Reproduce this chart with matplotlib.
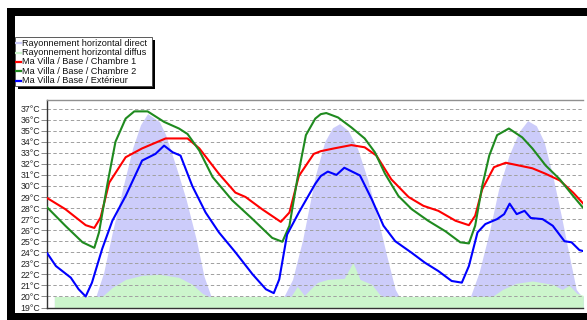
import matplotlib
matplotlib.use("Agg")
import matplotlib.pyplot as plt
from matplotlib.patches import Rectangle
from matplotlib.lines import Line2D
from matplotlib.ticker import MultipleLocator

plt.rcParams['font.family'] = ['Liberation Sans', 'DejaVu Sans']

# ---- data: hours since start of the period ----
ch1_h = [0, 2.3, 4.9, 6.0, 6.8, 7.9, 10, 12.1, 15.1, 17.9, 19.4, 21.9, 24, 25.3, 27.4,
         29.8, 30.9, 32.1, 34.0, 34.9, 36.6, 38.8, 40.5, 42, 43.9, 46.1, 48, 49.9, 52.1,
         53.8, 54.6, 55.5, 57, 58.5, 60.2, 61.9, 63.6, 65.4, 67.1, 68.4]
ch1_t = [28.9, 27.9, 26.45, 26.2, 27.15, 30.3, 32.6, 33.4, 34.3, 34.3, 33.4, 31.1, 29.4,
         29.0, 27.9, 26.75, 27.6, 30.9, 32.9, 33.15, 33.4, 33.7, 33.5, 32.75, 30.6, 29.0,
         28.2, 27.75, 26.85, 26.45, 27.3, 29.7, 31.7, 32.1, 31.85, 31.6, 31.1, 30.5, 29.4, 28.4]

ch2_h = [0, 2.3, 4.5, 6.0, 6.6, 7.7, 8.7, 10, 11.1, 12.8, 14.9, 16.8, 17.9, 19.4, 21.1,
         23.6, 26.2, 28.7, 30.0, 30.9, 31.9, 33.0, 34.2, 34.9, 35.6, 37.1, 38.8, 40.5,
         41.8, 43.1, 44.8, 46.5, 48.6, 50.8, 52.7, 53.8, 54.6, 55.5, 56.4, 57.4, 58.9,
         60.6, 61.9, 63.6, 65.4, 67.1, 68.4]
ch2_t = [28.05, 26.4, 24.9, 24.4, 25.8, 30.3, 34.0, 36.1, 36.75, 36.75, 35.8, 35.2, 34.7,
         33.2, 30.8, 28.7, 27.0, 25.3, 24.95, 26.4, 30.6, 34.6, 36.1, 36.5, 36.6, 36.2,
         35.3, 34.3, 33.05, 31.1, 29.1, 27.9, 26.85, 25.9, 24.9, 24.8, 26.4, 30.0, 32.75,
         34.6, 35.2, 34.4, 33.4, 31.85, 30.6, 29.1, 28.0]

ext_h = [0, 1.1, 3.0, 4.0, 4.9, 5.7, 7.0, 8.3, 10, 12.1, 13.8, 14.9, 16, 17, 18.5, 20.2,
         21.9, 24, 26.2, 27.9, 28.9, 29.6, 30.6, 32.1, 34.2, 34.9, 35.8, 36.9, 37.9, 39.9,
         41.4, 42.9, 44.4, 46.5, 48.2, 49.9, 51.6, 52.9, 53.8, 54.9, 55.9, 57.4, 58.3,
         59.0, 59.9, 60.9, 61.7, 63.2, 64.5, 66, 66.9, 67.9, 68.4]
ext_t = [23.9, 22.75, 21.7, 20.65, 20.0, 21.25, 24.3, 26.85, 29.1, 32.3, 32.9, 33.65,
         33.05, 32.75, 30.0, 27.6, 25.8, 24.0, 22.0, 20.65, 20.3, 21.55, 25.6, 27.6, 30.2,
         30.9, 31.3, 31.0, 31.65, 30.95, 28.8, 26.4, 25.0, 23.95, 23.05, 22.3, 21.4,
         21.25, 22.75, 25.8, 26.55, 27.0, 27.45, 28.4, 27.45, 27.75, 27.1, 27.0, 26.4,
         25.0, 24.9, 24.2, 24.1]

# solar radiation, W/m2
dir_h = [0.9, 6.2, 7.2, 8.3, 9.6, 10.9, 11.9, 12.8, 14.3, 15.1, 16.4, 17.7, 19.0, 20.0,
         20.9, 30.2, 31.3, 32.6, 34.2, 35.4, 36.4, 37.3, 38.4, 39.6, 40.9, 42.2, 43.3,
         44.4, 44.9, 54.0, 55.1, 56.4, 57.6, 58.9, 60.2, 61.3, 62.4, 63.4, 64.5, 65.6,
         66.6, 67.5, 67.9, 68.3, 68.4]
dir_w = [0, 0, 120, 320, 535, 740, 855, 910, 870, 805, 650, 485, 285, 100, 0, 0, 85, 285,
         600, 770, 840, 860, 825, 735, 580, 385, 205, 35, 0, 0, 120, 320, 535, 700, 820,
         875, 850, 770, 600, 400, 205, 35, 15, 0, 0]

dif_h = [0.9, 7.0, 8.3, 10.0, 12.1, 14.3, 16.8, 18.5, 19.8, 20.6, 31.1, 31.9, 32.8, 33.8,
         34.5, 35.8, 37.9, 39.0, 39.9, 41.4, 42.4, 42.9, 56.8, 58.1, 59.8, 61.9, 64.5,
         65.7, 66.6, 67.6, 68.4]
dif_w = [0, 0, 45, 85, 105, 110, 95, 60, 15, 0, 0, 50, 5, 45, 70, 85, 90, 170, 85, 60, 10,
         0, 0, 35, 65, 77, 60, 35, 55, 15, 5]

temp_ticks = list(range(19, 38))
temp_labels = [f"{t}°C" for t in temp_ticks]

series_names = ["Rayonnement horizontal direct", "Rayonnement horizontal diffus",
                "Ma Villa / Base / Chambre 1", "Ma Villa / Base / Chambre 2",
                "Ma Villa / Base / Extérieur"]
series_colors = ["#ccccfa", "#ccf5cc", "#ff0000", "#1f8a1f", "#0000ff"]

# ---- figure ----
W, H = 587, 320
fig = plt.figure(figsize=(W / 100, H / 100), dpi=100)
fig.patch.set_facecolor("white")

x0, x1, ytop, ybot = 47.3, 583.3, 100, 307.5
rect = [x0 / W, 1 - ybot / H, (x1 - x0) / W, (ybot - ytop) / H]

T_MIN, T_MAX = 19, 37.78
W_PER_DEG = 55.0
rad_min = (T_MIN - 20) * W_PER_DEG
rad_max = (T_MAX - 20) * W_PER_DEG

# radiation axis (background), temperature axis on top
axr = fig.add_axes(rect)
axr.set_xlim(0, 68.4)
axr.set_ylim(rad_min, rad_max)
axr.fill_between(dir_h, rad_min, dir_w, color=series_colors[0], lw=0)
axr.fill_between(dif_h, rad_min, dif_w, color=series_colors[1], lw=0)
axr.set_yticks([])
axr.tick_params(axis="x", which="both", labelbottom=False, bottom=False)
for s in axr.spines.values():
    s.set_visible(False)

ax = axr.twinx()
ax.set_ylim(T_MIN, T_MAX)
ax.yaxis.tick_left()
ax.yaxis.set_label_position("left")
ax.set_yticks(temp_ticks)
ax.set_yticklabels(temp_labels, fontsize=6.3, color="#222222")
ax.tick_params(axis="y", length=4, width=0.6, pad=1, color="#777777")
ax.xaxis.set_major_locator(MultipleLocator(6))
ax.xaxis.set_minor_locator(MultipleLocator(2))
ax.tick_params(axis="x", which="both", length=3, width=0.6, color="#888888",
               labelbottom=False)
ax.grid(True, which="major", color="#a0a0a0", lw=0.7, ls=(0, (3.5, 2.5)))

ax.plot(ch1_h, ch1_t, color=series_colors[2], lw=1.5, zorder=3)
ax.plot(ch2_h, ch2_t, color=series_colors[3], lw=1.5, zorder=3)
ax.plot(ext_h, ext_t, color=series_colors[4], lw=1.5, zorder=3)

ax.spines["right"].set_visible(False)
ax.spines["top"].set_color("#909090")
ax.spines["top"].set_linewidth(1.0)
ax.spines["left"].set_color("#333333")
ax.spines["left"].set_linewidth(1.0)
ax.spines["bottom"].set_color("#333333")
ax.spines["bottom"].set_linewidth(1.0)


def px_rect(xa, ya, xb, yb, **kw):
    r = Rectangle((xa / W, 1 - yb / H), (xb - xa) / W, (yb - ya) / H,
                  transform=fig.transFigure, **kw)
    fig.add_artist(r)
    return r


# legend with drop shadow
px_rect(18, 40, 155, 89, facecolor="black", edgecolor="none", zorder=5)
px_rect(15, 37, 152, 86, facecolor="white", edgecolor="#404040", lw=0.6, zorder=6)
row_y = [43.3, 52.6, 62.0, 71.4, 80.6]
for name, col, yy in zip(series_names, series_colors, row_y):
    fig.add_artist(Line2D([15.6 / W, 20.6 / W], [1 - yy / H, 1 - yy / H],
                          transform=fig.transFigure, color=col, lw=1.6, zorder=7))
    fig.text(22.3 / W, 1 - yy / H, name, fontsize=6.6, va="center", ha="left",
             color="#111111", zorder=7)

# black frame
px_rect(7, 8, 587, 15.5, facecolor="black", edgecolor="none", zorder=8)
px_rect(7, 8, 15, 320, facecolor="black", edgecolor="none", zorder=8)
px_rect(7, 313, 587, 320, facecolor="black", edgecolor="none", zorder=8)

fig.savefig("out.png", dpi=100)
